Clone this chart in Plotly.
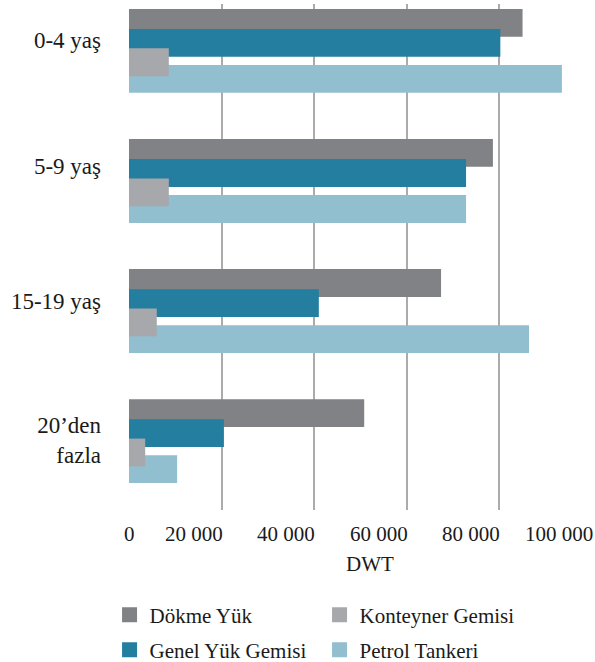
import plotly.graph_objects as go

categories = ["0-4 yaş", "5-9 yaş", "15-19 yaş", "20’den<br>fazla"]
series_names = ["Dökme Yük", "Genel Yük Gemisi", "Konteyner Gemisi", "Petrol Tankeri"]
dokme_yuk = [85000, 78600, 67400, 50800]
genel_yuk = [80200, 72800, 41000, 20500]
konteyner = [8600, 8600, 6000, 3500]
petrol = [93500, 72800, 86400, 10400]
x_ticks = [0, 20000, 40000, 60000, 80000, 100000]
x_tick_labels = ["0", "20 000", "40 000", "60 000", "80 000", "100 000"]

colors = {
    "Dökme Yük": "#818286",
    "Genel Yük Gemisi": "#237ea0",
    "Konteyner Gemisi": "#a7a8ab",
    "Petrol Tankeri": "#92bfcf",
}
values = {
    "Dökme Yük": dokme_yuk,
    "Genel Yük Gemisi": genel_yuk,
    "Konteyner Gemisi": konteyner,
    "Petrol Tankeri": petrol,
}
# vertical offsets (in category units) of each series within a group
offsets = {
    "Dökme Yük": -0.322,
    "Genel Yük Gemisi": -0.168,
    "Konteyner Gemisi": -0.019,
    "Petrol Tankeri": 0.109,
}
bar_width = 0.214
draw_order = ["Dökme Yük", "Genel Yük Gemisi", "Petrol Tankeri", "Konteyner Gemisi"]
# legend row for each series (row 1: legend, row 2: legend2)
legend_row = {"Dökme Yük": "legend", "Konteyner Gemisi": "legend",
              "Genel Yük Gemisi": "legend2", "Petrol Tankeri": "legend2"}
legend_order = ["Dökme Yük", "Konteyner Gemisi", "Genel Yük Gemisi", "Petrol Tankeri"]

FONT = "'Liberation Serif', 'Times New Roman', 'DejaVu Serif', serif"
TXT = "#1a1a1a"

ypos = list(range(len(categories)))

fig = go.Figure()
for name in draw_order:
    fig.add_trace(go.Bar(
        y=ypos, x=values[name], orientation="h", name=name,
        marker=dict(color=colors[name], line=dict(width=0)),
        offset=offsets[name], width=bar_width, showlegend=False,
    ))
# legend entries
for name in legend_order:
    fig.add_trace(go.Scatter(
        x=[None], y=[None], mode="markers", name=name,
        marker=dict(symbol="square", size=15, color=colors[name]),
        legend=legend_row[name],
    ))

label_shift = [-0.083, -0.114, -0.077, -0.009]
tickvals = [p + s for p, s in zip(ypos, label_shift)]

legend_common = dict(
    orientation="h", x=-0.042, xanchor="left", yanchor="middle",
    font=dict(family=FONT, size=21, color=TXT),
    entrywidth=165, entrywidthmode="pixels",
    traceorder="normal", itemsizing="trace", bgcolor="rgba(0,0,0,0)",
)

fig.update_layout(
    width=595, height=662,
    margin=dict(l=129, r=3, t=4, b=152, autoexpand=False),
    barmode="overlay",
    plot_bgcolor="white", paper_bgcolor="white",
    font=dict(family=FONT, color=TXT, size=21),
    showlegend=True,
    legend=dict(legend_common, y=-0.2075),
    legend2=dict(legend_common, y=-0.2767),
    xaxis=dict(
        range=[0, 100000], tickvals=x_ticks, showticklabels=False,
        showgrid=True, gridcolor="#ababab", gridwidth=1.5,
        zeroline=False, showline=False, ticks="", fixedrange=True,
        automargin=False,
    ),
    yaxis=dict(
        range=[3.53, -0.36], tickvals=tickvals, ticktext=categories,
        showgrid=False, zeroline=False, showline=False, ticks="",
        tickfont=dict(family=FONT, size=23, color=TXT),
        ticklabelstandoff=27, automargin=False, fixedrange=True,
    ),
)

for v, lab in zip(x_ticks, x_tick_labels):
    fig.add_annotation(
        x=v, y=0, xref="x", yref="paper", text=lab, showarrow=False,
        xanchor="center" if v == 0 else "right", yanchor="middle",
        xshift=0 if v == 0 else 3, yshift=-24,
        font=dict(family=FONT, size=21, color=TXT),
    )
fig.add_annotation(
    x=0.52, y=0, xref="paper", yref="paper", text="DWT", showarrow=False,
    xanchor="center", yanchor="middle", yshift=-54,
    font=dict(family=FONT, size=21, color=TXT),
)

fig.write_html(
    "out.html",
    config={"displayModeBar": False},
    post_script="document.body.style.margin='0';document.body.style.padding='0';",
)
